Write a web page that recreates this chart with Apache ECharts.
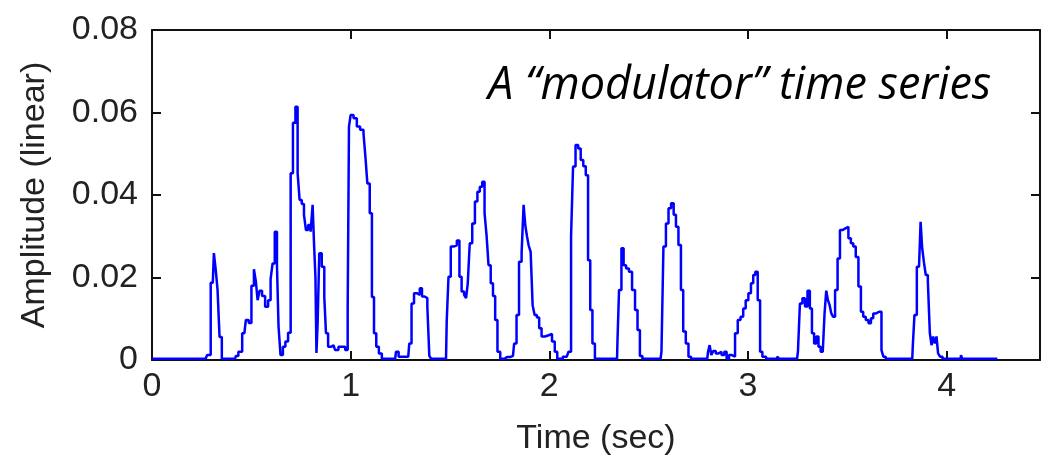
<!DOCTYPE html>
<html>
<head>
<meta charset="utf-8">
<script src="https://cdn.jsdelivr.net/npm/echarts@6.0.0/dist/echarts.min.js"></script>
<style>
  html, body { margin: 0; padding: 0; background: #fff; }
  #chart { width: 1041px; height: 459px; }
</style>
</head>
<body>
<div id="chart"></div>
<script>
// time (sec) of each step and its amplitude
var times = [
  0, 0.27, 0.285, 0.306, 0.317, 0.325, 0.335, 0.345, 0.358, 0.418,
  0.4265, 0.443, 0.465, 0.48, 0.494, 0.507, 0.519, 0.527, 0.536, 0.547,
  0.561, 0.578, 0.591, 0.603, 0.611, 0.625, 0.633, 0.641, 0.653, 0.665,
  0.678, 0.692, 0.704, 0.715, 0.729, 0.737, 0.749, 0.759, 0.771, 0.779,
  0.793, 0.804, 0.813, 0.8195, 0.826, 0.8296, 0.838, 0.846, 0.863, 0.8715,
  0.88, 0.893, 0.9135, 0.93, 0.947, 0.964, 0.981, 0.989, 0.994, 1.006,
  1.023, 1.039, 1.056, 1.073, 1.078, 1.09, 1.102, 1.112, 1.123, 1.135,
  1.149, 1.165, 1.224, 1.233, 1.25, 1.29, 1.30, 1.313, 1.325, 1.342, 1.354,
  1.364, 1.38, 1.392, 1.40, 1.41, 1.48, 1.487, 1.498, 1.51, 1.526,
  1.543, 1.552, 1.565, 1.577, 1.585, 1.594, 1.605, 1.619, 1.632, 1.644,
  1.656, 1.669, 1.679, 1.689, 1.699, 1.711, 1.722, 1.733, 1.745, 1.761,
  1.787, 1.817, 1.829, 1.841, 1.854, 1.867, 1.874, 1.884, 1.891, 1.901,
  1.911, 1.921, 1.931, 1.944, 1.954, 1.968, 1.988, 2.005, 2.022, 2.033,
  2.047, 2.088, 2.105, 2.114, 2.125, 2.139, 2.152, 2.164, 2.178, 2.189,
  2.201, 2.211, 2.223, 2.236, 2.341, 2.345, 2.357, 2.369, 2.379, 2.394,
  2.408, 2.425, 2.438, 2.45, 2.462, 2.475, 2.56, 2.569, 2.58, 2.594,
  2.606, 2.62, 2.632, 2.643, 2.657, 2.668, 2.68, 2.694, 2.707, 2.72,
  2.795, 2.803, 2.811, 2.82, 2.831, 2.845, 2.859, 2.875, 2.887, 2.898,
  2.911, 2.928, 2.942, 2.955, 2.97, 2.982, 2.995, 3.009, 3.021, 3.032,
  3.042, 3.056, 3.066, 3.079, 3.104, 3.145, 3.15, 3.164, 3.247, 3.256,
  3.267, 3.281, 3.293, 3.306, 3.317, 3.327, 3.339, 3.35, 3.36, 3.372,
  3.381, 3.39, 3.398, 3.407, 3.415, 3.424, 3.432, 3.445, 3.457, 3.469,
  3.482, 3.499, 3.512, 3.524, 3.536, 3.549, 3.563, 3.574, 3.586, 3.6,
  3.613, 3.625, 3.636, 3.653, 3.668, 3.676, 3.687, 3.70, 3.827, 3.832,
  3.844, 3.856, 3.866, 3.872, 3.882, 3.89, 3.90, 3.911, 3.92, 3.928,
  3.936, 3.945, 3.953, 3.961, 3.973, 3.986, 4.07, 4.075, 4.082, 4.255
];
var amps = [
  0.0003, 0.0003, 0.0012, 0.0187, 0.0259, 0.0218, 0.017, 0.0056, 0.0003, 0.0003,
  0.001, 0.002, 0.0065, 0.0097, 0.009, 0.018, 0.022, 0.019, 0.0145, 0.0168,
  0.0155, 0.0129, 0.0145, 0.0196, 0.0234, 0.0311, 0.023, 0.0081, 0.0012, 0.0032,
  0.0045, 0.0066, 0.0453, 0.0575, 0.0614, 0.0453, 0.0388, 0.0378, 0.0352, 0.0315,
  0.0327, 0.0311, 0.0376, 0.0275, 0.020, 0.0017, 0.009, 0.0259, 0.0226, 0.0153,
  0.0065, 0.0032, 0.0036, 0.0024, 0.0032, 0.0032, 0.0024, 0.0125, 0.0566, 0.0594,
  0.0586, 0.0566, 0.0558, 0.055, 0.0485, 0.0428, 0.0356, 0.0153, 0.0065, 0.0032,
  0.0016, 0.0003, 0.0003, 0.002, 0.0008, 0.0008, 0.004, 0.0137, 0.0162, 0.0158, 0.0174,
  0.0154, 0.015, 0.0129, 0.001, 0.0003, 0.0003, 0.0093, 0.0202, 0.0275, 0.0278,
  0.029, 0.0202, 0.0166, 0.0158, 0.015, 0.0186, 0.0283, 0.0331, 0.0384, 0.0408,
  0.042, 0.0432, 0.0356, 0.0303, 0.023, 0.0186, 0.0155, 0.0097, 0.002, 0.0003,
  0.0007, 0.001, 0.004, 0.0109, 0.0238, 0.0259, 0.0376, 0.0327, 0.030, 0.0278,
  0.0262, 0.0133, 0.0109, 0.0103, 0.0077, 0.0057, 0.006, 0.0063, 0.0045, 0.002,
  0.0003, 0.0008, 0.002, 0.030, 0.0469, 0.0521, 0.0513, 0.0485, 0.047, 0.0448,
  0.0242, 0.0121, 0.004, 0.0003, 0.0003, 0.0045, 0.017, 0.0271, 0.023, 0.0222,
  0.0214, 0.017, 0.0121, 0.0073, 0.001, 0.0003, 0.0003, 0.002, 0.0275, 0.0331,
  0.0368, 0.038, 0.0352, 0.0323, 0.0279, 0.017, 0.0069, 0.004, 0.0008, 0.0003,
  0.0003, 0.002, 0.0036, 0.0012, 0.0022, 0.0016, 0.002, 0.0012, 0.002, 0.0003,
  0.0012, 0.0008, 0.0065, 0.0097, 0.0105, 0.0125, 0.0145, 0.0162, 0.0186, 0.0206,
  0.0214, 0.0145, 0.002, 0.0008, 0.0003, 0.0003, 0.0008, 0.0003, 0.0003, 0.002,
  0.0137, 0.015, 0.013, 0.0168, 0.0125, 0.0065, 0.004, 0.0057, 0.0032, 0.002,
  0.0024, 0.0113, 0.0168, 0.0145, 0.0133, 0.0113, 0.0105, 0.017, 0.0246, 0.0315,
  0.0319, 0.0323, 0.0295, 0.0283, 0.0275, 0.025, 0.0178, 0.0117, 0.0105, 0.0097,
  0.0089, 0.0101, 0.0113, 0.0117, 0.0117, 0.0024, 0.0008, 0.0003, 0.0003, 0.0032,
  0.0109, 0.0226, 0.0226, 0.0335, 0.0271, 0.0236, 0.0206, 0.019, 0.0065, 0.0036,
  0.0057, 0.004, 0.0057, 0.0016, 0.0008, 0.0003, 0.0003, 0.0012, 0.0003, 0.0003
];
var xMax = 4.47;
var yMax = 0.08;
var yStep = 0.02;
var title = "A \u201cmodulator\u201d time series";

var chart = echarts.init(document.getElementById("chart"));
var txt = { fontFamily: "Liberation Sans", fontSize: 34, color: "#222" };
var frame = { show: true, onZero: false, lineStyle: { color: "#111", width: 2 } };
var ticks = { show: true, inside: true, length: 9, lineStyle: { color: "#111", width: 2 } };

var option = {
  animation: false,
  backgroundColor: "#fff",
  grid: { left: 152, top: 30, right: 1, bottom: 99, outerBoundsMode: "none" },
  xAxis: [
    {
      type: "value", min: 0, max: xMax, interval: 1,
      axisLine: frame, axisTick: ticks, splitLine: { show: false },
      axisLabel: Object.assign({ margin: 10, showMaxLabel: false,
        formatter: function (v) { return Number.isInteger(v) ? String(v) : ""; } }, txt),
      name: "Time (sec)", nameLocation: "middle", nameGap: 62, nameTextStyle: txt
    },
    {
      type: "value", position: "top", min: 0, max: xMax, interval: 1,
      axisLine: frame, axisTick: ticks, splitLine: { show: false },
      axisLabel: { show: false }
    }
  ],
  yAxis: [
    {
      type: "value", min: 0, max: yMax, interval: yStep,
      axisLine: frame, axisTick: ticks, splitLine: { show: false },
      axisLabel: Object.assign({ margin: 14 }, txt),
      name: "Amplitude (linear)", nameLocation: "middle", nameGap: 100, nameTextStyle: txt
    },
    {
      type: "value", position: "right", min: 0, max: yMax, interval: yStep,
      axisLine: frame, axisTick: ticks, splitLine: { show: false },
      axisLabel: { show: false }
    }
  ],
  graphic: [
    {
      type: "text", left: 488, top: 64,
      style: { text: title, fontFamily: "Open Sans", fontStyle: "italic", fontSize: 45, fill: "#000" }
    }
  ],
  series: [
    {
      type: "line",
      step: "middle",
      showSymbol: false,
      data: times.map(function (t, i) { return [t, amps[i]]; }),
      lineStyle: { color: "#0000ff", width: 2.5 },
      z: 3
    }
  ]
};
chart.setOption(option);
</script>
</body>
</html>
